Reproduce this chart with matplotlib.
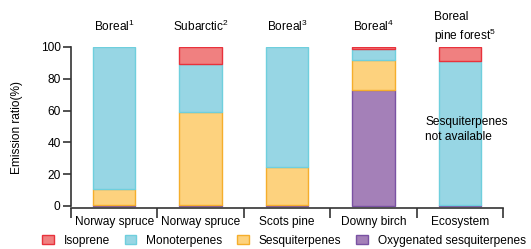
import matplotlib.pyplot as plt
import numpy as np
from matplotlib.patches import Patch

plt.rcParams['font.family'] = ['Liberation Sans', 'DejaVu Sans']
plt.rcParams['mathtext.fontset'] = 'custom'
plt.rcParams['mathtext.rm'] = 'Liberation Sans'
plt.rcParams['mathtext.default'] = 'regular'

categories = ['Norway spruce', 'Norway spruce', 'Scots pine', 'Downy birch', 'Ecosystem']
regions = [r'Boreal$^{1}$', r'Subarctic$^{2}$', r'Boreal$^{3}$', r'Boreal$^{4}$', 'Boreal\npine forest$^{5}$']

# stacked shares (%), bottom to top
oxygenated = [0.6, 0.6, 0.6, 73.0, 0.6]
sesquiterpenes = [10.2, 58.2, 24.2, 18.9, 0.0]
monoterpenes = [89.2, 30.2, 75.2, 7.0, 90.6]
isoprene = [0.0, 11.0, 0.0, 1.1, 8.8]

series = [
    ('Oxygenated sesquiterpenes', oxygenated, '#a480b8', '#7a52a3'),
    ('Sesquiterpenes', sesquiterpenes, '#fdd27e', '#f5ae2c'),
    ('Monoterpenes', monoterpenes, '#97d6e4', '#6fcfdd'),
    ('Isoprene', isoprene, '#f08080', '#e8323c'),
]
fs = 8.6

fig = plt.figure(figsize=(5.31, 2.49), dpi=100)
ax = fig.add_axes([71 / 531, 1 - 208 / 249, 432 / 531, 161 / 249])

x = np.arange(len(categories))
bottom = np.zeros(len(categories))
for name, vals, fc, ec in series:
    vals = np.array(vals)
    lw = np.where(vals > 0, 1.0, 0.0)
    ax.bar(x, vals, 0.49, bottom=bottom, color=fc, edgecolor=ec, linewidth=lw)
    bottom += vals

ax.set_xlim(-0.5, 4.5)
ax.set_ylim(-1.3, 100)
ax.set_yticks([0, 20, 40, 60, 80, 100])
ax.tick_params(axis='y', length=5.5, width=1.2, colors='#333333', labelsize=fs, labelcolor='black', pad=2)

ax.set_xticks(np.arange(-0.5, 5, 1))
ax.set_xticklabels([])
ax.tick_params(axis='x', which='major', length=7, width=1.2, colors='#333333')
ax.set_xticks(x, minor=True)
ax.set_xticklabels(categories, minor=True, fontsize=fs)
ax.tick_params(axis='x', which='minor', length=0, pad=6)

for s in ['top', 'right']:
    ax.spines[s].set_visible(False)
for s in ['left', 'bottom']:
    ax.spines[s].set_linewidth(1.2)
    ax.spines[s].set_color('#333333')
ax.spines['left'].set_bounds(0, 100)

ax.set_ylabel('Emission ratio(%)', fontsize=fs, labelpad=13)

for i, lab in enumerate(regions[:4]):
    ax.text(i, 113, lab, ha='center', va='center', fontsize=fs, clip_on=False)
ax.text(3.70, 112, regions[4], ha='left', va='center', fontsize=fs, linespacing=1.3, clip_on=False)
ax.text(3.60, 48, 'Sesquiterpenes\nnot available', ha='left', va='center', fontsize=fs, linespacing=1.3)

handles = [Patch(facecolor=fc, edgecolor=ec, label=name) for name, vals, fc, ec in series[::-1]]
fig.legend(handles=handles, loc='lower center', bbox_to_anchor=(0.535, -0.03), ncol=4, frameon=False,
           fontsize=fs, handlelength=0.95, handleheight=0.75, columnspacing=1.25, handletextpad=0.85,
           borderpad=0.3)

plt.savefig('out.png', dpi=100)
